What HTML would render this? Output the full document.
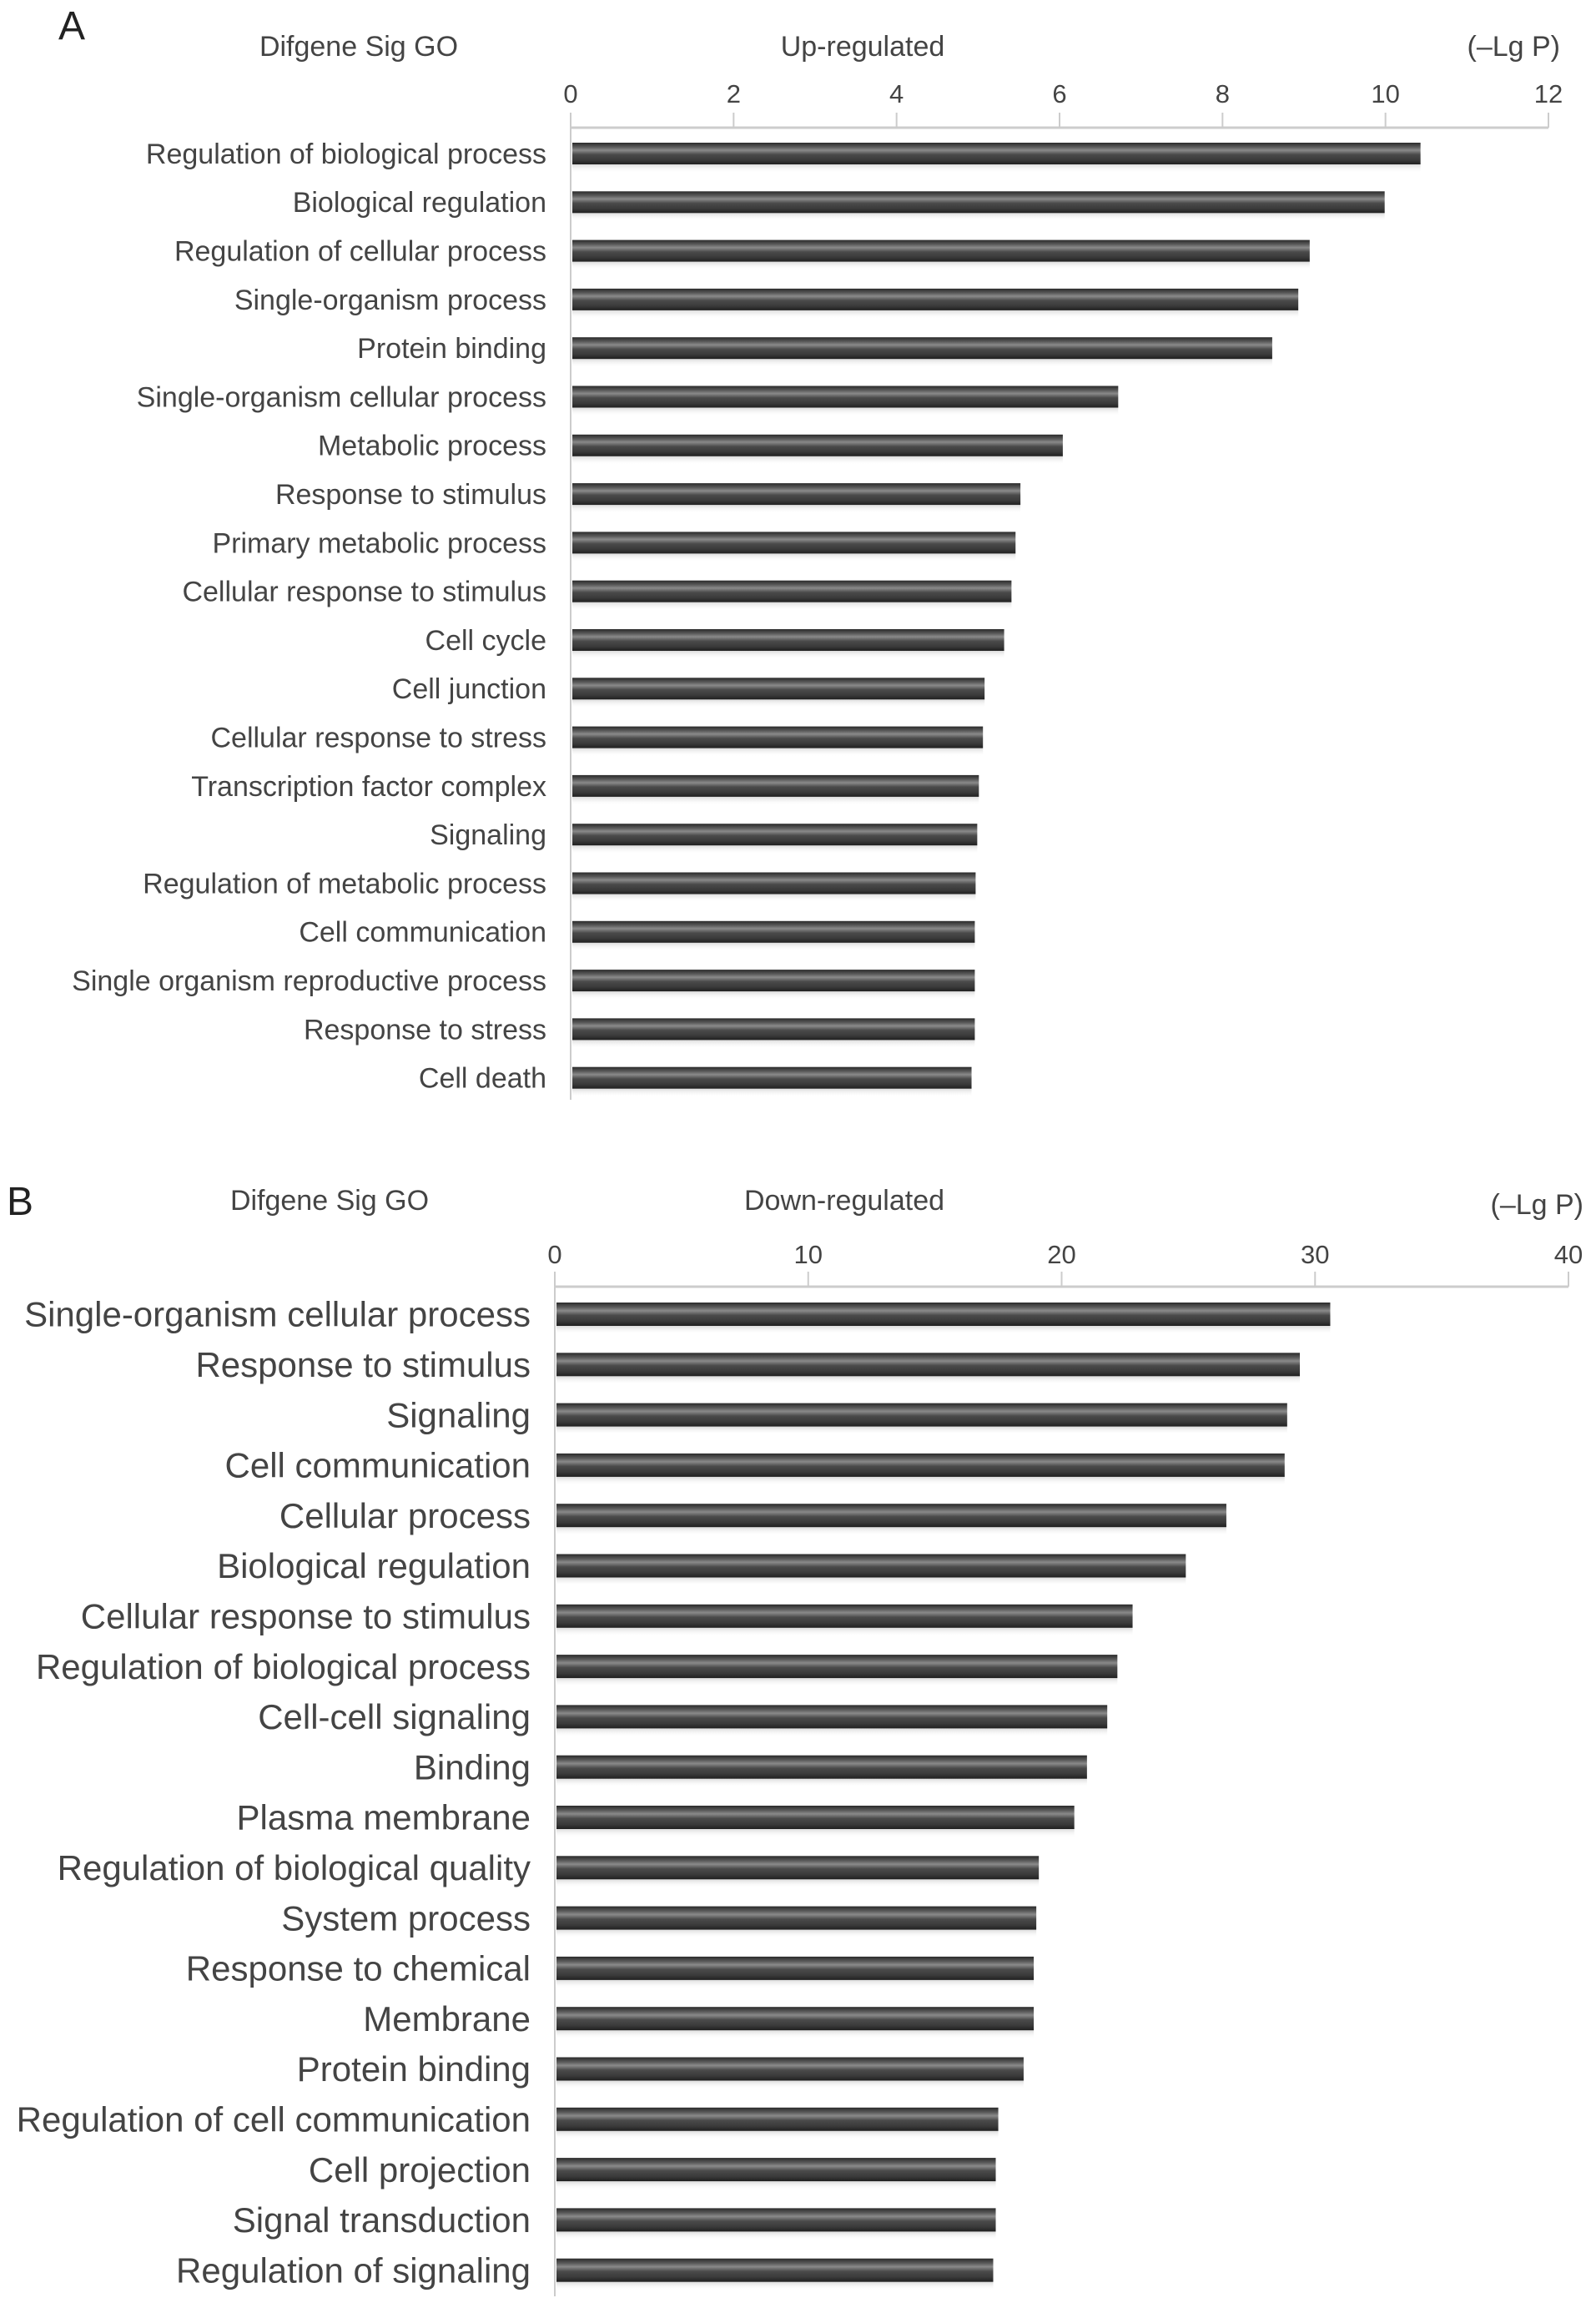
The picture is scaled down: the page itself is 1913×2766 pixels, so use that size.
<!DOCTYPE html>
<html><head><meta charset="utf-8"><style>
html,body{margin:0;padding:0;background:#fff;}
svg{display:block;font-family:"Liberation Sans",sans-serif;}
</style></head><body>
<svg id="chart" width="1913" height="2766" viewBox="0 0 1913 2766" xmlns="http://www.w3.org/2000/svg">
<defs>
<linearGradient id="barGrad" x1="0" y1="0" x2="0" y2="1">
<stop offset="0" stop-color="#2a2a2a"/>
<stop offset="0.2" stop-color="#5a5a5a"/>
<stop offset="0.35" stop-color="#8a8a8a"/>
<stop offset="0.55" stop-color="#4a4a4a"/>
<stop offset="0.8" stop-color="#3a3a3a"/>
<stop offset="1" stop-color="#202020"/>
</linearGradient>
<linearGradient id="shadowGrad" x1="0" y1="0" x2="0" y2="1">
<stop offset="0" stop-color="#ccc" stop-opacity="0.7"/>
<stop offset="1" stop-color="#fff" stop-opacity="0"/>
</linearGradient>
</defs>
</svg>
<script>
const catsA = ["Regulation of biological process","Biological regulation","Regulation of cellular process","Single-organism process","Protein binding","Single-organism cellular process","Metabolic process","Response to stimulus","Primary metabolic process","Cellular response to stimulus","Cell cycle","Cell junction","Cellular response to stress","Transcription factor complex","Signaling","Regulation of metabolic process","Cell communication","Single organism reproductive process","Response to stress","Cell death"];
const valsA = [10.43,9.99,9.07,8.93,8.61,6.72,6.04,5.52,5.46,5.41,5.32,5.08,5.06,5.01,4.99,4.97,4.96,4.96,4.96,4.92];
const ticksA = [0,2,4,6,8,10,12];
const catsB = ["Single-organism cellular process","Response to stimulus","Signaling","Cell communication","Cellular process","Biological regulation","Cellular response to stimulus","Regulation of biological process","Cell-cell signaling","Binding","Plasma membrane","Regulation of biological quality","System process","Response to chemical","Membrane","Protein binding","Regulation of cell communication","Cell projection","Signal transduction","Regulation of signaling"];
const valsB = [30.6,29.4,28.9,28.8,26.5,24.9,22.8,22.2,21.8,21.0,20.5,19.1,19.0,18.9,18.9,18.5,17.5,17.4,17.4,17.3];
const ticksB = [0,10,20,30,40];

const NS="http://www.w3.org/2000/svg";
const svg=document.getElementById('chart');
function mk(tag,attrs,parent){const e=document.createElementNS(NS,tag);for(const k in attrs)e.setAttribute(k,attrs[k]);(parent||svg).appendChild(e);return e;}
function txt(s,attrs,parent){const e=mk('text',attrs,parent);e.textContent=s;return e;}

function panel(cfg,cats,vals,ticks){
  const g=mk('g',{});
  
  
  const max=ticks[ticks.length-1];
  const x=v=>cfg.x0+(v/max)*(cfg.x1-cfg.x0);
  const y=i=>cfg.yFirst+i*cfg.step;
  let t=txt(cfg.letter,{x:cfg.letterX,y:cfg.letterY,'font-size':48,fill:'#222'},g);
  
  
  t=txt('Difgene Sig GO',{x:cfg.t1x,y:cfg.titleY,'font-size':34,fill:'#444','text-anchor':'middle'},g);
  
  
  t=txt(cfg.title,{x:cfg.t2x,y:cfg.titleY,'font-size':34,fill:'#444','text-anchor':'middle'},g);
  
  
  t=txt('(\u2013Lg P)',{x:cfg.t3x,y:cfg.unitY,'font-size':34,fill:'#444','text-anchor':'end'},g);
  
  
  let l=mk('line',{x1:cfg.x0,x2:cfg.x1,y1:cfg.axisY,y2:cfg.axisY,stroke:'#ccc','stroke-width':3},g);
  
  
  l=mk('line',{x1:cfg.x0,x2:cfg.x0,y1:cfg.axisY-18,y2:cfg.axisEnd,stroke:'#ccc','stroke-width':2},g);
  
  
  ticks.forEach(v=>{
    const tl=mk('line',{x1:x(v),x2:x(v),y1:cfg.axisY-18,y2:cfg.axisY,stroke:'#ccc','stroke-width':2},g);
    
    
    const tt=txt(String(v),{x:x(v),y:cfg.tickY,'font-size':31,fill:'#444','text-anchor':'middle'},g);
    
    
  });
  cats.forEach((c,i)=>{
    const cy=y(i);
    const lab=txt(c,{x:cfg.labelX,y:cy+cfg.fs*0.35,'font-size':cfg.fs,fill:'#444','text-anchor':'end'},g);
    
    
    const sh=mk('rect',{x:cfg.x0+2,y:cy+cfg.bh/2,width:x(vals[i])-cfg.x0-2,height:10,fill:'url(#shadowGrad)'},g);
    
    
    const b=mk('rect',{x:cfg.x0+2,y:cy-cfg.bh/2,width:x(vals[i])-cfg.x0-2,height:cfg.bh,fill:'url(#barGrad)'},g);
    
    
  });
}
panel({name:'panel-a-up-regulated',title:'Up-regulated',letter:'A',letterX:70,letterY:47,t1x:430,t2x:1034,t3x:1870,titleY:67,unitY:67,tickY:123,axisY:153,axisEnd:1318,x0:684,x1:1856,yFirst:184,step:58.3,bh:26,labelX:655,fs:34},catsA,valsA,ticksA);
panel({name:'panel-b-down-regulated',title:'Down-regulated',letter:'B',letterX:8,letterY:1456,t1x:395,t2x:1012,t3x:1898,titleY:1450,unitY:1455,tickY:1514,axisY:1542,axisEnd:2752,x0:665,x1:1880,yFirst:1575,step:60.3,bh:28,labelX:636,fs:42},catsB,valsB,ticksB);
</script>
</body></html>
